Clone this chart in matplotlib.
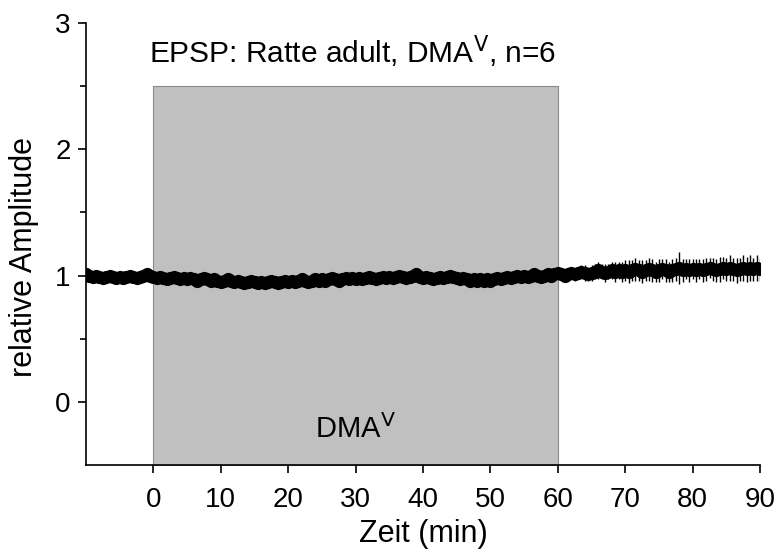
import matplotlib
matplotlib.use("Agg")
import matplotlib.pyplot as plt
import numpy as np

plt.rcParams['font.family'] = ['Liberation Sans', 'DejaVu Sans']

time_min = np.arange(-10, 90.01, 0.5)

amplitude = [
    1.01, 1.00, 0.99, 1.00, 0.99, 0.98, 0.99, 1.00, 0.99, 0.98,
    0.99, 0.98, 0.99, 1.00, 0.99, 0.98, 0.99, 1.00, 1.01, 1.00,
    0.99, 0.98, 0.99, 0.98, 0.97, 0.98, 0.99, 0.98, 0.97, 0.98,
    0.97, 0.98, 0.97, 0.96, 0.97, 0.98, 0.97, 0.96, 0.97, 0.96,
    0.95, 0.96, 0.97, 0.96, 0.95, 0.96, 0.95, 0.94, 0.95, 0.96,
    0.95, 0.94, 0.95, 0.94, 0.95, 0.96, 0.95, 0.94, 0.95, 0.96,
    0.95, 0.96, 0.95, 0.96, 0.97, 0.96, 0.95, 0.96, 0.97, 0.96,
    0.97, 0.96, 0.97, 0.98, 0.97, 0.96, 0.97, 0.98, 0.97, 0.98,
    0.97, 0.98, 0.97, 0.98, 0.99, 0.98, 0.97, 0.98, 0.99, 0.98,
    0.99, 0.98, 0.99, 1.00, 0.99, 0.98, 0.99, 1.00, 1.01, 0.99,
    0.98, 0.99, 0.98, 0.97, 0.98, 0.99, 0.98, 0.99, 1.00, 0.99,
    0.98, 0.97, 0.98, 0.97, 0.96, 0.97, 0.96, 0.97, 0.96, 0.97,
    0.96, 0.97, 0.98, 0.97, 0.98, 0.99, 0.98, 0.99, 1.00, 0.99,
    1.00, 0.99, 1.00, 1.01, 1.00, 0.99, 1.00, 1.01, 1.00, 1.01,
    1.02, 1.01, 1.00, 1.01, 1.02, 1.01, 1.02, 1.03, 1.02, 1.01,
    1.02, 1.03, 1.04, 1.03, 1.02, 1.03, 1.04, 1.03, 1.04, 1.03,
    1.04, 1.03, 1.04, 1.05, 1.04, 1.03, 1.04, 1.05, 1.04, 1.03,
    1.04, 1.05, 1.04, 1.03, 1.04, 1.05, 1.06, 1.04, 1.05, 1.04,
    1.05, 1.04, 1.05, 1.04, 1.05, 1.06, 1.05, 1.04, 1.05, 1.06,
    1.05, 1.06, 1.05, 1.04, 1.05, 1.06, 1.05, 1.06, 1.05, 1.06,
    1.05,
]

sem = [
    0.02, 0.02, 0.02, 0.02, 0.02, 0.02, 0.02, 0.02, 0.02, 0.02,
    0.02, 0.02, 0.02, 0.02, 0.02, 0.02, 0.02, 0.02, 0.02, 0.02,
    0.02, 0.02, 0.02, 0.02, 0.02, 0.02, 0.02, 0.02, 0.02, 0.02,
    0.02, 0.02, 0.02, 0.02, 0.02, 0.02, 0.02, 0.02, 0.02, 0.02,
    0.02, 0.02, 0.02, 0.02, 0.02, 0.02, 0.02, 0.02, 0.02, 0.02,
    0.02, 0.02, 0.02, 0.02, 0.02, 0.02, 0.02, 0.02, 0.02, 0.02,
    0.02, 0.02, 0.02, 0.02, 0.02, 0.02, 0.02, 0.02, 0.02, 0.02,
    0.02, 0.02, 0.02, 0.02, 0.02, 0.02, 0.02, 0.02, 0.02, 0.02,
    0.02, 0.02, 0.02, 0.02, 0.02, 0.02, 0.02, 0.02, 0.02, 0.02,
    0.02, 0.02, 0.02, 0.02, 0.02, 0.02, 0.02, 0.02, 0.02, 0.02,
    0.02, 0.02, 0.02, 0.02, 0.02, 0.02, 0.02, 0.02, 0.02, 0.02,
    0.02, 0.02, 0.02, 0.02, 0.02, 0.02, 0.02, 0.02, 0.02, 0.02,
    0.02, 0.02, 0.02, 0.02, 0.02, 0.02, 0.02, 0.02, 0.02, 0.02,
    0.03, 0.03, 0.03, 0.03, 0.03, 0.03, 0.03, 0.03, 0.03, 0.03,
    0.04, 0.04, 0.04, 0.05, 0.04, 0.05, 0.05, 0.05, 0.06, 0.05,
    0.06, 0.06, 0.07, 0.06, 0.07, 0.06, 0.07, 0.08, 0.07, 0.08,
    0.08, 0.09, 0.08, 0.09, 0.08, 0.09, 0.08, 0.09, 0.09, 0.08,
    0.09, 0.08, 0.09, 0.08, 0.09, 0.09, 0.13, 0.09, 0.08, 0.09,
    0.08, 0.09, 0.08, 0.09, 0.09, 0.08, 0.09, 0.09, 0.10, 0.09,
    0.09, 0.10, 0.09, 0.10, 0.09, 0.10, 0.10, 0.10, 0.09, 0.10,
    0.09,
]

xticks = [0, 10, 20, 30, 40, 50, 60, 70, 80, 90]
yticks = [0, 1, 2, 3]
drug_start, drug_end, drug_top = 0, 60, 2.5

fig = plt.figure(figsize=(7.78, 5.52), dpi=100)
ax = fig.add_axes([0.1105, 0.158, 0.8665, 0.800])

ax.fill_between([drug_start, drug_end], -0.5, drug_top, facecolor='#c0c0c0',
                edgecolor='#8a8a8a', linewidth=0.8, zorder=1)

ax.errorbar(time_min, amplitude, yerr=sem, fmt='o', color='black',
            markersize=9.5, elinewidth=1.0, capsize=1.8, capthick=1.0,
            markeredgewidth=0, zorder=3)

ax.set_xlim(-10, 90)
ax.set_ylim(-0.5, 3)
ax.set_xticks(xticks)
ax.set_yticks(yticks)
ax.set_yticks([0.5, 1.5, 2.5], minor=True)
ax.spines['top'].set_visible(False)
ax.spines['right'].set_visible(False)
for s in ['left', 'bottom']:
    ax.spines[s].set_linewidth(1.2)
ax.tick_params(axis='both', which='major', direction='out', length=6,
               width=1.2, labelsize=20, pad=5)
ax.tick_params(axis='y', which='minor', direction='out', length=4, width=1.2)
ax.tick_params(axis='x', which='major', pad=10)

ax.set_xlabel('Zeit (min)', fontsize=22, labelpad=4)
ax.set_ylabel('relative Amplitude', fontsize=22)
ax.yaxis.set_label_coords(-0.07, 0.47)

ax.text(-0.7, 2.685, r'EPSP: Ratte adult, DMA$^\mathrm{V}$, n=6', fontsize=21.5,
        ha='left', va='baseline')
ax.text(30, -0.22, r'DMA$^\mathrm{V}$', fontsize=21, ha='center', va='center')

fig.savefig('out.png', dpi=100)
